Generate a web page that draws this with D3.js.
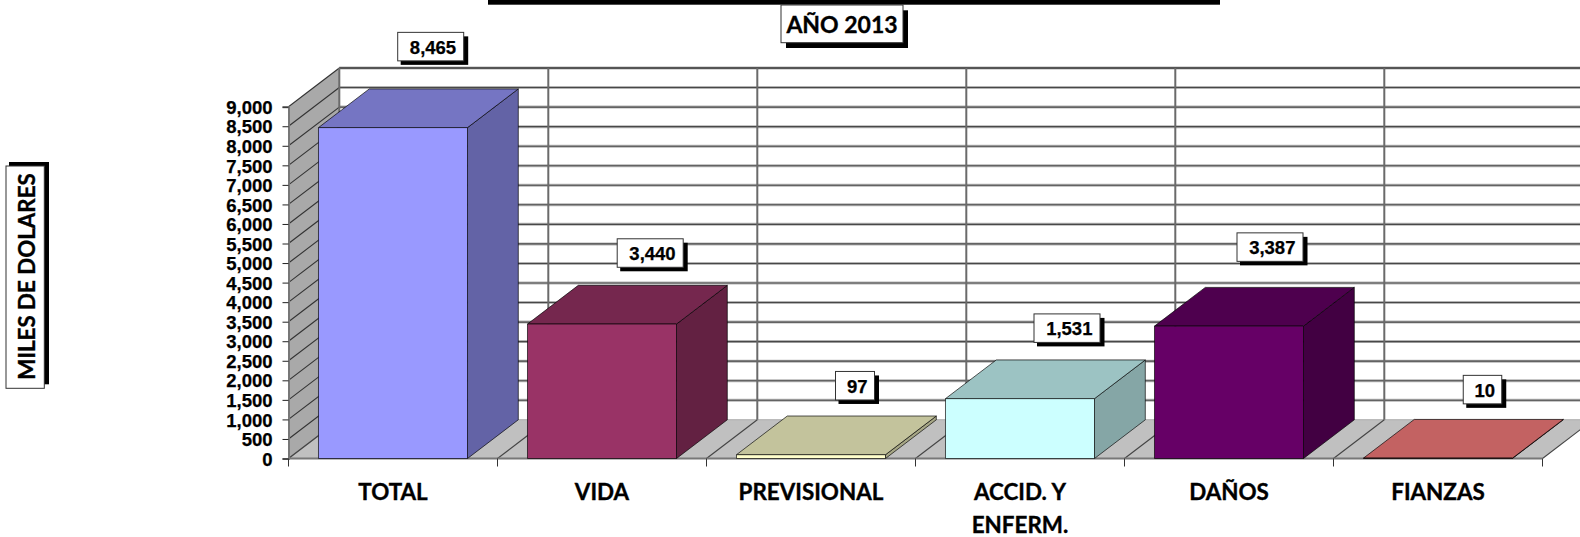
<!DOCTYPE html>
<html><head><meta charset="utf-8">
<style>html,body{margin:0;padding:0;background:#fff;overflow:hidden}svg{display:block}</style>
<script src="https://cdn.jsdelivr.net/npm/d3@7/dist/d3.min.js"></script></head>
<body><svg id="c" width="1580" height="537"></svg>
<script>
const categories=["TOTAL","VIDA","PREVISIONAL","ACCID. Y ENFERM.","DAÑOS","FIANZAS"];
const values=[8465,3440,97,1531,3387,10];
const valueLabels=["8,465","3,440","97","1,531","3,387","10"];
const yTicks=d3.range(0,9001,500);
const frontColors=["#9999FF","#993366","#FFFFCC","#CCFFFF","#660066","#FF8080"];
const topColors=["#7575C3","#75274E","#C3C39C","#9CC3C3","#4E004E","#C36262"];
const sideColors=["#6363A6","#632142","#A6A685","#85A6A6","#420042","#A65353"];
// hand placed label boxes, relative to the bar: centre shift in x and y, box width
const labelShiftX=[37.7,48.2,44,47,41,44.5];
const labelShiftY=[-81,-71,-69,-70.5,-79,-68.5];
const labelWidth=[66,66,39,66,66,38.5];

const svg=d3.select("#c");
const left=288.5,right=1542.5,base=458.5,top9=106.7,dx=50.8,dy=-38.7;
const y=d3.scaleLinear().domain([0,9000]).range([base,top9]);
const x=d3.scaleBand().domain(categories).range([left,right]).paddingInner(.287).paddingOuter(.1435);
const edge=d3.scaleLinear().domain([0,6]).range([left,right]);
const poly=p=>p.map(a=>a.join(",")).join(" ");
const line=d3.line();

// walls
svg.append("polygon").attr("points",poly([[left,y(0)],[left+dx,y(0)+dy],[left+dx,y(9000)+dy],[left,y(9000)]])).attr("fill","#a9a9a9");
svg.append("polygon").attr("points",poly([[left,base],[right,base],[right+dx,base+dy],[left+dx,base+dy]])).attr("fill","#c0c0c0");

const halo=svg.append("g").attr("fill","none").attr("stroke","#b4b4b4").attr("stroke-width",3);
const grid=svg.append("g").attr("fill","none").attr("stroke","#484848").attr("stroke-width",1.1);
yTicks.forEach(v=>{
  if(v>0){
    halo.append("path").attr("d",line([[left+dx,y(v)+dy],[right+dx,y(v)+dy]]));
    grid.append("path").attr("d",line([[left+dx,y(v)+dy],[right+dx,y(v)+dy]]));
  }
  grid.append("path").attr("d",line([[left,y(v)],[left+dx,y(v)+dy]])).attr("stroke",v===0?"#888":"#333");
});
grid.append("path").attr("d",line([[left+dx,y(0)+dy],[right+dx,y(0)+dy]])).attr("stroke","#aaa");
grid.append("path").attr("d",line([[left+dx,y(9000)+dy],[right+dx,y(9000)+dy]])).attr("stroke","#555").attr("stroke-width",2);
d3.range(0,7).forEach(i=>{
  const e=edge(i);
  grid.append("path").attr("d",line([[e,y(0)],[e+dx,y(0)+dy]])).attr("stroke","#444");
  grid.append("path").attr("d",line([[e+dx,y(0)+dy],[e+dx,y(9000)+dy]])).attr("stroke","#6a6a6a").attr("stroke-width",2);
});

// axes
const yAxis=d3.axisLeft(y).tickValues(yTicks).tickSize(6).tickPadding(10).tickFormat(d3.format(","));
const gy=svg.append("g").attr("transform",`translate(${left},0)`).call(yAxis);
gy.select(".domain").attr("stroke","#777").attr("stroke-width",2);
gy.selectAll("line").attr("stroke","#222");
const arialBold=s=>s.attr("font-family","'Liberation Sans',Arial,sans-serif").attr("font-weight","bold").attr("font-size",18.5).attr("fill","#000").attr("stroke","#000").attr("stroke-width",.25);
gy.selectAll("text").call(arialBold).attr("dy",".36em");
svg.append("line").attr("x1",left).attr("x2",right).attr("y1",base).attr("y2",base).attr("stroke","#777").attr("stroke-width",2);
svg.append("g").selectAll("line").data(d3.range(0,7)).join("line")
  .attr("x1",d=>edge(d)).attr("x2",d=>edge(d)).attr("y1",base).attr("y2",base+8).attr("stroke","#333");

// bars
const bars=svg.append("g").attr("stroke","#000").attr("stroke-opacity",.65).attr("stroke-linejoin","round");
categories.forEach((c,i)=>{
  const a=x(c),b=a+x.bandwidth(),t=y(values[i]);
  const g=bars.append("g");
  g.append("polygon").attr("points",poly([[b,t],[b+dx,t+dy],[b+dx,base+dy],[b,base]])).attr("fill",sideColors[i]);
  g.append("polygon").attr("points",poly([[a,t],[b,t],[b+dx,t+dy],[a+dx,t+dy]])).attr("fill",topColors[i]);
  g.append("rect").attr("x",a).attr("y",t).attr("width",x.bandwidth()).attr("height",base-t).attr("fill",frontColors[i]);
});

function box(x0,y0,w,h,sx,sy,sw,sh){
  svg.append("rect").attr("x",x0+sx).attr("y",y0+sy).attr("width",w+sw).attr("height",h+sh).attr("fill","#000");
  svg.append("rect").attr("x",x0).attr("y",y0).attr("width",w).attr("height",h).attr("fill","#fff").attr("stroke","#333").attr("stroke-width",1);
}
// value labels
categories.forEach((c,i)=>{
  const cx=x(c)+x.bandwidth()/2+labelShiftX[i], cy=y(values[i])+labelShiftY[i], w=labelWidth[i], h=28.5;
  box(cx-w/2,cy-h/2,w,h,3,4,1.5,0);
  svg.append("text").attr("x",cx+2.3).attr("y",cy+.5).attr("dy",".36em").attr("text-anchor","middle").call(arialBold).text(valueLabels[i]);
});

// category labels
const latoBold=s=>s.attr("font-family","Lato,'Noto Sans',sans-serif").attr("font-weight","bold").attr("fill","#000").attr("stroke","#000").attr("stroke-width",.35);
const catLines=categories.map(c=>c==="ACCID. Y ENFERM."?["ACCID. Y","ENFERM."]:[c]);
categories.forEach((c,i)=>{
  catLines[i].forEach((t,k)=>{
    svg.append("text").attr("x",x(c)+x.bandwidth()/2).attr("y",500+k*32.7).attr("text-anchor","middle").attr("font-size",22.4).call(latoBold).text(t);
  });
});

// title remnant & title
svg.append("rect").attr("x",488).attr("y",-10).attr("width",732).attr("height",14.7).attr("fill","#000");
box(781,5,122,37.7,5,5.3,0,0);
svg.append("text").attr("x",842).attr("y",33).attr("text-anchor","middle").attr("font-size",23).call(latoBold).text("AÑO 2013");

// y title
box(6,166,38.3,222.3,3,-4,1.7,0);
svg.append("text").attr("transform","translate(34.5,276.5) rotate(-90)").attr("text-anchor","middle").attr("font-size",22.3).call(latoBold).text("MILES DE DOLARES");
</script></body></html>
